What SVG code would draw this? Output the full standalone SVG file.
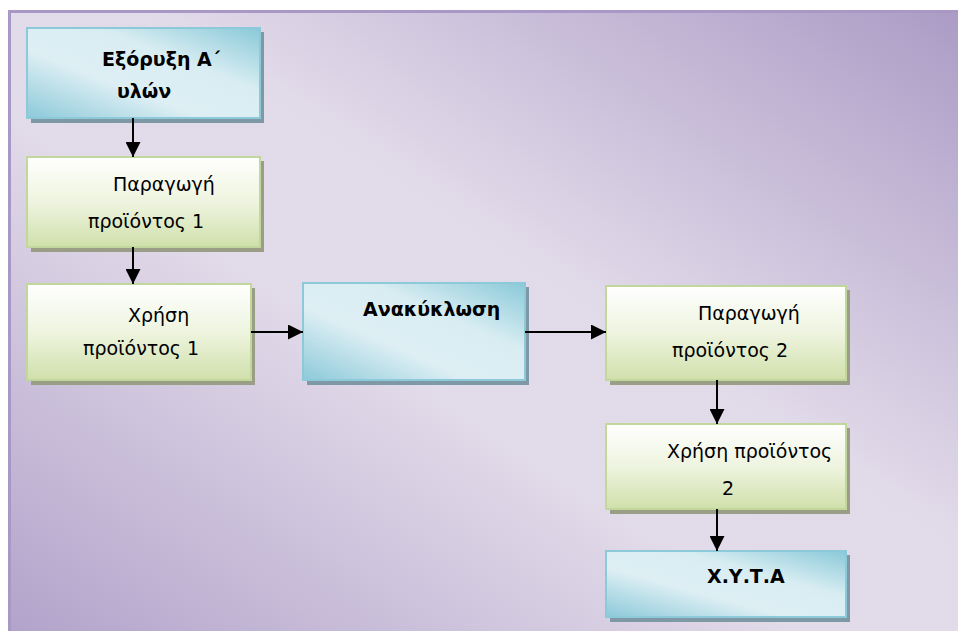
<svg xmlns="http://www.w3.org/2000/svg" width="958" height="631" viewBox="0 0 958 631">
  <defs>
    <linearGradient id="bgGrad" x1="1" y1="0" x2="0" y2="1">
      <stop offset="0" stop-color="#ab9bc5"/>
      <stop offset="0.42" stop-color="#e1dae9"/>
      <stop offset="0.58" stop-color="#e2dbe9"/>
      <stop offset="1" stop-color="#b1a2ca"/>
    </linearGradient>
    <linearGradient id="blueGrad" x1="1" y1="0" x2="0" y2="1">
      <stop offset="0" stop-color="#8ac9d9"/>
      <stop offset="0.35" stop-color="#d8edf2"/>
      <stop offset="0.62" stop-color="#deeff4"/>
      <stop offset="1" stop-color="#8cc9d9"/>
    </linearGradient>
    <linearGradient id="greenGrad" x1="0" y1="0" x2="0" y2="1">
      <stop offset="0" stop-color="#ffffff"/>
      <stop offset="0.5" stop-color="#eef4df"/>
      <stop offset="1" stop-color="#d0e0ab"/>
    </linearGradient>
    <marker id="arrow" viewBox="0 0 10 10" refX="10" refY="5" markerWidth="7.5" markerHeight="7.5" orient="auto" markerUnits="strokeWidth">
      <path d="M0,0 L10,5 L0,10 Z" fill="#000"/>
    </marker>
  </defs>
  <style>
    .bg { fill: url(#bgGrad); stroke: #a998c6; stroke-width: 3; }
    .blue { fill: url(#blueGrad); stroke: #8ccad9; stroke-width: 2; }
    .green { fill: url(#greenGrad); stroke: #c2d79b; stroke-width: 2; }
    .shBlue { fill: #7f98a6; }
    .shGreen { fill: #9a9e86; }
    .t { font-family: "DejaVu Sans", Verdana, sans-serif; font-size: 19px; fill: #000; }
    .b { font-weight: bold; }
    .edge { stroke: #000; stroke-width: 2; fill: none; marker-end: url(#arrow); }
  </style>

  <!-- background panel -->
  <rect class="bg" x="9.5" y="11.5" width="960" height="630"/>

  <!-- nodes -->
  <g id="extraction">
    <rect class="shBlue" x="31" y="32" width="233" height="91"/>
    <rect class="blue" x="27" y="28" width="233" height="90"/>
    <text class="t b" x="102" y="66">Εξόρυξη Α΄</text>
    <text class="t b" x="117" y="98">υλών</text>
  </g>

  <g id="production1">
    <rect class="shGreen" x="31" y="161" width="233" height="91"/>
    <rect class="green" x="27" y="157" width="233" height="90"/>
    <text class="t" x="113" y="191">Παραγωγή</text>
    <text class="t" x="88" y="228">προϊόντος 1</text>
  </g>

  <g id="use1">
    <rect class="shGreen" x="31" y="288" width="224" height="97"/>
    <rect class="green" x="27" y="284" width="224" height="96"/>
    <text class="t" x="128" y="322">Χρήση</text>
    <text class="t" x="83" y="355">προϊόντος 1</text>
  </g>

  <g id="recycling">
    <rect class="shBlue" x="307" y="287" width="222" height="98"/>
    <rect class="blue" x="303" y="283" width="222" height="97"/>
    <text class="t b" x="363" y="316">Ανακύκλωση</text>
  </g>

  <g id="production2">
    <rect class="shGreen" x="610" y="290" width="240" height="95"/>
    <rect class="green" x="606" y="286" width="240" height="94"/>
    <text class="t" x="698" y="320">Παραγωγή</text>
    <text class="t" x="672" y="357">προϊόντος 2</text>
  </g>

  <g id="use2">
    <rect class="shGreen" x="610" y="428" width="240" height="86"/>
    <rect class="green" x="606" y="424" width="240" height="85"/>
    <text class="t" x="667" y="458">Χρήση προϊόντος</text>
    <text class="t" x="722" y="495">2</text>
  </g>

  <g id="landfill">
    <rect class="shBlue" x="610" y="555" width="240" height="67"/>
    <rect class="blue" x="606" y="551" width="240" height="66"/>
    <text class="t b" x="707" y="583">Χ.Υ.Τ.Α</text>
  </g>

  <!-- connectors -->
  <g id="connectors">
    <line class="edge" x1="133" y1="118" x2="133" y2="157"/>
    <line class="edge" x1="133" y1="247" x2="133" y2="284"/>
    <line class="edge" x1="251" y1="332" x2="303" y2="332"/>
    <line class="edge" x1="525" y1="332" x2="606" y2="332"/>
    <line class="edge" x1="717" y1="380" x2="717" y2="424"/>
    <line class="edge" x1="717" y1="509" x2="717" y2="551"/>
  </g>
</svg>
